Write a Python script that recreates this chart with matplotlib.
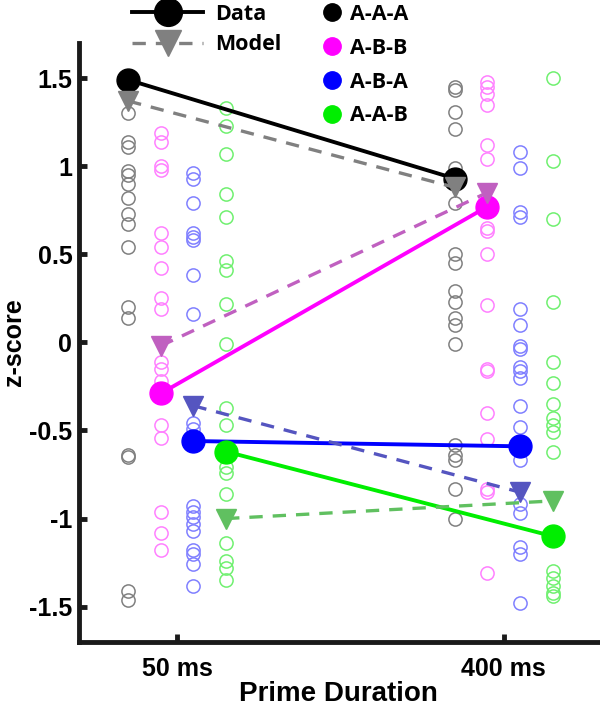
import matplotlib
matplotlib.use('Agg')
import matplotlib.pyplot as plt
from matplotlib.lines import Line2D

conditions = ['A-A-A', 'A-B-B', 'A-B-A', 'A-A-B']
durations = ['50 ms', '400 ms']

# group means (filled circles) and model predictions (triangles): [50 ms, 400 ms]
data_mean = {
    'A-A-A': [1.49, 0.93],
    'A-B-B': [-0.29, 0.77],
    'A-B-A': [-0.56, -0.59],
    'A-A-B': [-0.62, -1.10],
}
model_mean = {
    'A-A-A': [1.37, 0.88],
    'A-B-B': [-0.02, 0.85],
    'A-B-A': [-0.36, -0.85],
    'A-A-B': [-1.00, -0.90],
}

# individual subjects, 50 ms
aaa_50 = [1.30, 1.14, 1.11, 0.97, 0.95, 0.90, 0.82, 0.73, 0.67, 0.54, 0.20, 0.14,
          -0.65, -0.64, -1.41, -1.46]
abb_50 = [1.19, 1.14, 1.00, 0.98, 0.62, 0.54, 0.42, 0.25, 0.19, -0.11, -0.15, -0.22,
          -0.30, -0.47, -0.54, -0.96, -1.08, -1.18]
aba_50 = [0.96, 0.93, 0.79, 0.62, 0.60, 0.58, 0.38, 0.16, -0.46, -0.49, -0.57, -0.93,
          -0.96, -0.99, -1.03, -1.07, -1.18, -1.20, -1.26, -1.38]
aab_50 = [1.33, 1.23, 1.07, 0.84, 0.71, 0.46, 0.41, 0.22, -0.01, -0.37, -0.47, -0.63,
          -0.71, -0.74, -0.86, -1.14, -1.24, -1.28, -1.35]

# individual subjects, 400 ms
aaa_400 = [1.45, 1.43, 1.31, 1.21, 0.99, 0.79, 0.50, 0.45, 0.29, 0.23, 0.14, 0.10,
           -0.01, -0.58, -0.64, -0.67, -0.83, -1.00]
abb_400 = [1.48, 1.45, 1.41, 1.35, 1.12, 1.04, 0.77, 0.65, 0.63, 0.50, 0.21, -0.15,
           -0.16, -0.40, -0.55, -0.83, -0.85, -1.31]
aba_400 = [1.08, 0.99, 0.74, 0.71, 0.19, 0.10, -0.02, -0.04, -0.14, -0.16, -0.20, -0.36,
           -0.48, -0.59, -0.67, -0.92, -0.97, -1.16, -1.20, -1.48]
aab_400 = [1.50, 1.03, 0.70, 0.23, -0.11, -0.23, -0.35, -0.43, -0.47, -0.51, -0.62,
           -1.30, -1.34, -1.38, -1.42, -1.44]

subjects = {
    'A-A-A': [aaa_50, aaa_400],
    'A-B-B': [abb_50, abb_400],
    'A-B-A': [aba_50, aba_400],
    'A-A-B': [aab_50, aab_400],
}

data_col = {'A-A-A': '#000000', 'A-B-B': '#ff00ff', 'A-B-A': '#0000ff', 'A-A-B': '#00ee00'}
model_col = {'A-A-A': '#808080', 'A-B-B': '#c060c0', 'A-B-A': '#5555c0', 'A-A-B': '#60c060'}
subj_col = {'A-A-A': '#808080', 'A-B-B': '#ff80ff', 'A-B-A': '#8080ff', 'A-A-B': '#70f070'}
offset = {'A-A-A': -0.15, 'A-B-B': -0.05, 'A-B-A': 0.05, 'A-A-B': 0.15}

tick_font = 'Liberation Sans'
leg_font = 'Open Sans'

fig = plt.figure(figsize=(6, 7.14), dpi=100)
ax = fig.add_axes([0.132, 0.101, 0.865, 0.839])

xs = [1, 2]
for c in conditions:
    for i, x in enumerate(xs):
        vals = subjects[c][i]
        ax.plot([x + offset[c]] * len(vals), vals, 'o', mfc='none', mec=subj_col[c],
                ms=9.5, mew=1.1, zorder=1)

for c in conditions:
    px = [x + offset[c] for x in xs]
    ax.plot(px, data_mean[c], '-o', color=data_col[c], lw=2.8, ms=16.5, zorder=3)
for c in conditions:
    px = [x + offset[c] for x in xs]
    ax.plot(px, model_mean[c], '--v', color=model_col[c], lw=2.4, ms=15,
            dashes=(4, 3), zorder=4)

ax.set_xlim(0.70, 2.29)
ax.set_ylim(-1.70, 1.70)
ax.set_xticks(xs)
ax.set_xticklabels(durations)
ax.set_yticks([-1.5, -1, -0.5, 0, 0.5, 1, 1.5])
ax.set_yticklabels(['-1.5', '-1', '-0.5', '0', '0.5', '1', '1.5'])
ax.spines['top'].set_visible(False)
ax.spines['right'].set_visible(False)
for s in ['left', 'bottom']:
    ax.spines[s].set_linewidth(3.5)
    ax.spines[s].set_color('#1a1a1a')
ax.tick_params(direction='in', length=6, width=3.5, color='#1a1a1a', pad=5)
for lab in ax.get_xticklabels() + ax.get_yticklabels():
    lab.set_fontfamily(tick_font)
    lab.set_fontweight('bold')
    lab.set_fontsize(18)
ax.tick_params(axis='x', pad=11)
ax.set_xlabel('Prime Duration', fontfamily=tick_font, fontweight='bold', fontsize=20,
              labelpad=0)
ax.set_ylabel('z-score', fontfamily=tick_font, fontweight='bold', fontsize=18,
              labelpad=2)

# legend: data vs model
lp = {'family': leg_font, 'weight': 'bold', 'size': 15.5}
h1 = [Line2D([], [], color='black', lw=2.8, marker='o', ms=20),
      Line2D([], [], color='#808080', lw=2.4, ls='--', dashes=(4, 3), marker='v', ms=19)]
leg1 = fig.legend(h1, ['Data', 'Model'], loc='upper left', bbox_to_anchor=(0.188, 1.022),
                  frameon=False, handlelength=3.3, labelspacing=0.45, handletextpad=0.55,
                  prop=lp)
h2 = [Line2D([], [], ls='none', marker='o', ms=12.5, color=data_col[c]) for c in conditions]
leg2 = fig.legend(h2, conditions, loc='upper left', bbox_to_anchor=(0.503, 1.022),
                  frameon=False, handlelength=1.0, labelspacing=0.6, handletextpad=0.35,
                  prop=lp)

fig.savefig('out.png', dpi=100)
